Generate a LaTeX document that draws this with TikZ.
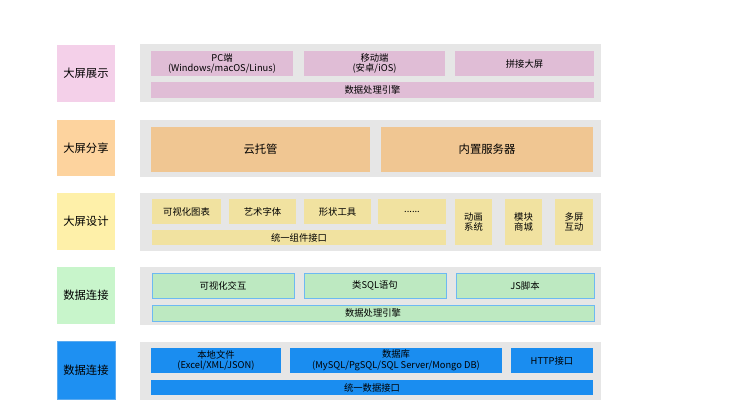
\documentclass[tikz,border=0pt]{standalone}
\usepackage{fontspec}
\setmainfont{Noto Sans CJK SC}
\definecolor{gr}{HTML}{E6E6E6}
\definecolor{pkL}{HTML}{F4D0E9}\definecolor{pk}{HTML}{E0BDD6}
\definecolor{orL}{HTML}{FDD39E}\definecolor{or}{HTML}{F0C692}
\definecolor{yeL}{HTML}{FEF0A9}\definecolor{ye}{HTML}{F1E2A0}
\definecolor{gnL}{HTML}{C8F5CB}\definecolor{gn}{HTML}{BDE9C1}\definecolor{gnB}{HTML}{6DB9F2}
\definecolor{blL}{HTML}{1E90F2}\definecolor{bl}{HTML}{1A8DF0}\definecolor{blB}{HTML}{5AAAF0}
\begin{document}
\begin{tikzpicture}[x=0.75pt,y=-0.75pt,
 bx/.style={fill=#1,draw=none,inner sep=0pt,align=center,font=\fontsize{7}{8}\selectfont},
 lab/.style={fill=#1,draw=none,inner sep=0pt,align=center,font=\fontsize{8.5}{10}\selectfont},
 panel/.style={fill=gr,draw=none}]
\useasboundingbox[fill=white] (0,0) rectangle (740,416);
\newcommand\bx[6]{\node[bx=#5,#6,minimum width={(#3-#1)*0.75pt},minimum height={(#4-#2)*0.75pt}] at ({(#1+#3)/2},{(#2+#4)/2})}
% panels
\foreach \a/\b in {44/102,120/177,193/251,267/325,342/400}{\fill[gr] (140,\a) rectangle (601,\b);}
% labels
\bx{57}{45}{115}{102}{pkL}{font=\fontsize{8.5}{10}\selectfont} (L1) {大屏展示};
\bx{57}{120}{115}{176}{orL}{font=\fontsize{8.5}{10}\selectfont} (L2) {大屏分享};
\bx{57}{193}{115}{250}{yeL}{font=\fontsize{8.5}{10}\selectfont} (L3) {大屏设计};
\bx{57}{267}{115}{324}{gnL}{font=\fontsize{8.5}{10}\selectfont} (L4) {数据连接};
\bx{57}{341}{115}{399}{blL}{font=\fontsize{8.5}{10}\selectfont,draw=blB} (L5) {数据连接};
% row1
\bx{151}{51}{293}{76}{pk}{} (a1) {PC端\\(Windows/macOS/Linus)};
\bx{304}{51}{445}{76}{pk}{} (a2) {移动端\\(安卓/iOS)};
\bx{455}{51}{594}{76}{pk}{} (a3) {拼接大屏};
\bx{151}{82}{594}{98}{pk}{} (a4) {数据处理引擎};
% row2
\bx{151}{127}{370}{172}{or}{font=\fontsize{8.5}{10}\selectfont} (b1) {云托管};
\bx{381}{127}{593}{172}{or}{font=\fontsize{8.5}{10}\selectfont} (b2) {内置服务器};
% row3
\bx{152}{199}{221}{224}{ye}{} (c1) {可视化图表};
\bx{229}{199}{296}{224}{ye}{} (c2) {艺术字体};
\bx{304}{199}{371}{224}{ye}{} (c3) {形状工具};
\bx{378}{199}{446}{224}{ye}{} (c4) {......};
\bx{152}{230}{446}{245}{ye}{} (c5) {统一组件接口};
\bx{455}{199}{492}{245}{ye}{} (c6) {动画\\系统};
\bx{505}{199}{542}{245}{ye}{} (c7) {模块\\商城};
\bx{555}{199}{593}{245}{ye}{} (c8) {多屏\\互动};
% row4
\bx{152}{273}{294}{298}{gn}{draw=gnB} (d1) {可视化交互};
\bx{304}{273}{446}{298}{gn}{draw=gnB} (d2) {类SQL语句};
\bx{456}{273}{594}{298}{gn}{draw=gnB} (d3) {JS脚本};
\bx{152}{305}{594}{321}{gn}{draw=gnB} (d4) {数据处理引擎};
% row5
\bx{151}{348}{281}{373}{bl}{} (e1) {本地文件\\(Excel/XML/JSON)};
\bx{290}{348}{502}{373}{bl}{} (e2) {数据库\\(MySQL/PgSQL/SQL Server/Mongo DB)};
\bx{511}{348}{593}{373}{bl}{} (e3) {HTTP接口};
\bx{151}{380}{593}{395}{bl}{} (e4) {统一数据接口};
\end{tikzpicture}
\end{document}
